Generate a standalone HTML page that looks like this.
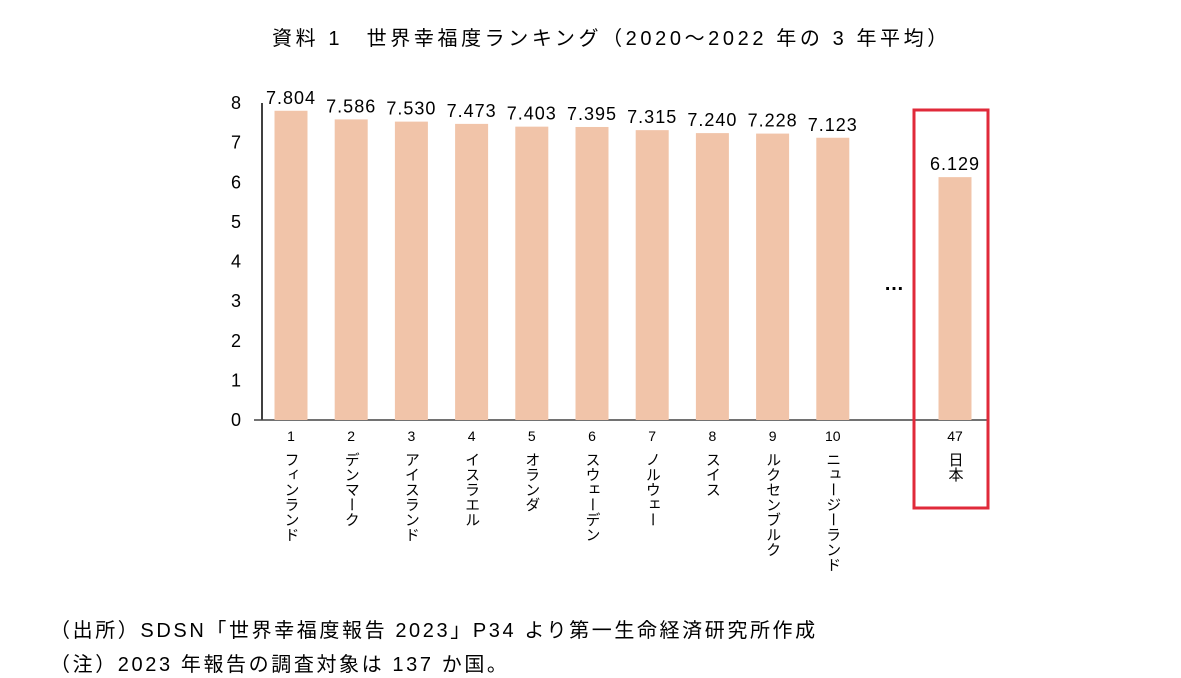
<!DOCTYPE html>
<html><head><meta charset="utf-8">
<style>
body{margin:0;background:#fff;}
#root{position:relative;width:1181px;height:678px;overflow:hidden;font-family:"Liberation Sans","Noto Sans CJK JP",sans-serif;color:#000;}
.t{position:absolute;white-space:nowrap;}
.vl{position:absolute;writing-mode:vertical-rl;text-orientation:upright;font-size:15px;line-height:15px;letter-spacing:0px;transform:translateX(-50%);}
.rk{position:absolute;font-size:14px;transform:translateX(-50%);}
</style></head><body>
<div id="root">
<div class="t" style="left:272px;top:22px;font-size:20px;letter-spacing:3.6px;">資料 1　世界幸福度ランキング（2020～2022 年の 3 年平均）</div>
<svg id="svg" width="1181" height="678" style="position:absolute;left:0;top:0"></svg>
<div class="t" style="left:50px;top:614px;font-size:20px;letter-spacing:2.6px;">（出所）SDSN「世界幸福度報告 2023」P34 より第一生命経済研究所作成</div>
<div class="t" style="left:50px;top:648px;font-size:20px;letter-spacing:2.6px;">（注）2023 年報告の調査対象は 137 か国。</div>
</div>
<script>
const ranks=["1","2","3","4","5","6","7","8","9","10","47"];
const countries=["フィンランド","デンマーク","アイスランド","イスラエル","オランダ","スウェーデン","ノルウェー","スイス","ルクセンブルク","ニュージーランド","日本"];
const values=[7.804,7.586,7.530,7.473,7.403,7.395,7.315,7.240,7.228,7.123,6.129];
const yTicks=[0,1,2,3,4,5,6,7,8];
const NS="http://www.w3.org/2000/svg";
const svg=document.getElementById('svg');
const root=document.getElementById('root');
const y0=420,yTop=103;
const y=v=>y0-(y0-yTop)*v/8;
const slot=i=>i<10?291+i*60.2:955;
function mk(t,a){const e=document.createElementNS(NS,t);for(const k in a)e.setAttribute(k,a[k]);svg.appendChild(e);return e;}
let ax=mk('line',{x1:262,y1:y(8),x2:262,y2:y0,stroke:'#000','stroke-width':1.5});


let xa=mk('line',{x1:254,y1:y0,x2:988,y2:y0,stroke:'#444','stroke-width':1.5});


yTicks.forEach(v=>{
 const t=mk('text',{x:241,y:y(v)+6,'font-size':18,'text-anchor':'end','font-family':'Liberation Sans'});
 t.textContent=v;
 
 
});
values.forEach((v,i)=>{
 const cx=slot(i);
 const r=mk('rect',{x:cx-16.5,y:y(v),width:33,height:y0-y(v),fill:'#F1C4A9'});
 
 
 const t=mk('text',{x:cx,y:y(v)-7,'font-size':18,'letter-spacing':1,'text-anchor':'middle','font-family':'Liberation Sans'});
 t.textContent=v.toFixed(3);
 
 
 const rk=document.createElement('div');rk.className='rk';rk.style.left=cx+'px';rk.style.top='428px';rk.textContent=ranks[i];
 
 
 root.appendChild(rk);
 const c=document.createElement('div');c.className='vl';c.style.left=cx+'px';c.style.top='452px';c.textContent=countries[i];
 
 
 root.appendChild(c);
});
const d=mk('text',{x:894,y:290,'font-size':20,'text-anchor':'middle','font-weight':'bold','font-family':'Liberation Sans'});
d.textContent='…';


const box=mk('rect',{x:914,y:110,width:74,height:398,fill:'none',stroke:'#E02A3A','stroke-width':3});


</script>
</body></html>
